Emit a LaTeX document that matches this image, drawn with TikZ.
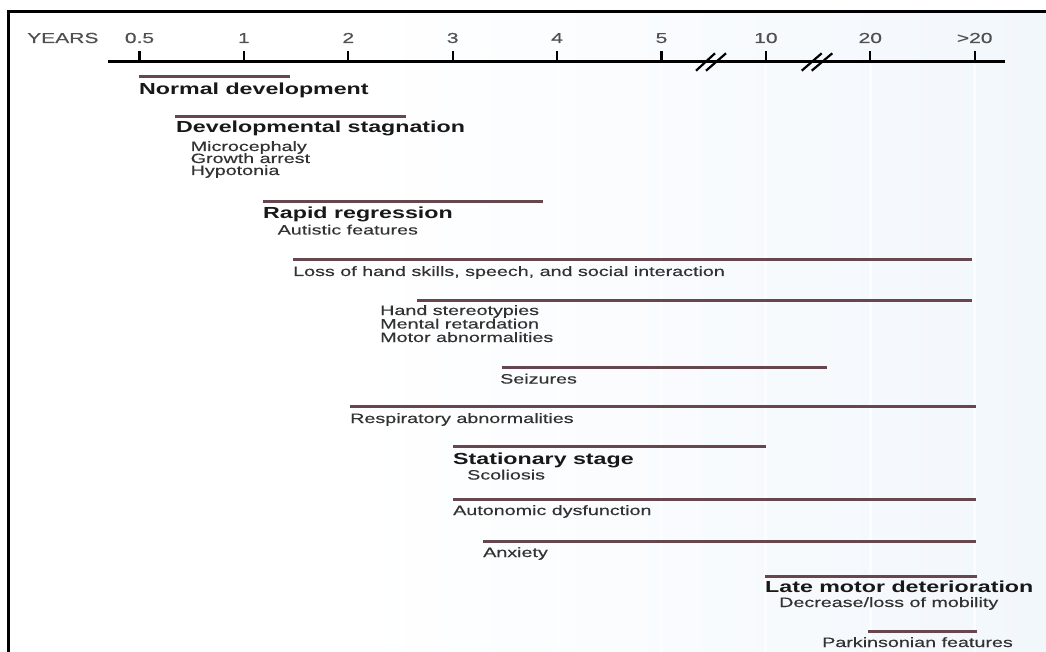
\documentclass[tikz,border=0pt]{standalone}
\usepackage{fontspec}
\setmainfont{Liberation Sans}
\newfontfamily\axisfont[FakeStretch=1.45, FakeBold=0.3]{Liberation Sans}
\newfontfamily\headfont[FakeStretch=1.45]{Liberation Sans}
\newfontfamily\itemfont[FakeStretch=1.46, FakeBold=0.3]{Liberation Sans}

\definecolor{barcol}{RGB}{104,70,78}
\definecolor{bgblue}{RGB}{232,241,250}
\definecolor{headcol}{RGB}{24,24,24}
\definecolor{itemcol}{RGB}{50,50,50}
\definecolor{axiscol}{RGB}{80,80,80}

\pgfdeclarehorizontalshading{panelshade}{100bp}{color(0bp)=(white); color(42bp)=(white); color(100bp)=(bgblue)}

\tikzset{
  bar/.style={draw=barcol, line width=3pt},
  axisline/.style={draw=black, line width=3pt},
  tick/.style={draw=black, line width=2.2pt},
  breakmark/.style={draw=black, line width=2.2pt},
  head/.style={anchor=base west, inner sep=0pt, text=headcol,
    font=\headfont\bfseries\fontsize{16}{16}\selectfont},
  item/.style={anchor=base west, inner sep=0pt, text=itemcol,
    font=\itemfont\fontsize{13.5}{13.5}\selectfont},
  yr/.style={anchor=base, inner sep=0pt, text=axiscol,
    font=\axisfont\fontsize{14.5}{14.5}\selectfont},
  stripe/.style={draw=white, line width=3pt, opacity=0.7},
}

\begin{document}
\begin{tikzpicture}[x=1pt, y=-1pt]
\useasboundingbox (0,0) rectangle (1046,652);
\fill[white] (0,0) rectangle (1046,652);

% panel background and frame
\fill[shading=panelshade] (8.3,11.5) rectangle (1046,652);
\foreach \sx in {557.1,661.5,765.9,870.3,974.7}
  \draw[stripe] (\sx,64) -- (\sx,652);
\draw[line width=2.5pt] (8.3,652) -- (8.3,11.5) -- (1046,11.5);

% time axis
\draw[axisline] (108,62) -- (1005,62);
\foreach \k/\lab in {0/0.5,1/1,2/2,3/3,4/4,5/5,6/10,7/20,8/{>20}} {
  \pgfmathsetmacro{\tx}{139.5+104.4*\k}
  \draw[tick] (\tx,51.5) -- (\tx,62);
  \node[yr] (tick\k) at (\tx,43) {\lab};
}
\node[yr, anchor=base west] (years) at (27,43) {YEARS};

% axis breaks
\draw[breakmark] (696,70.7) -- (715,53.3);
\draw[breakmark] (706,70.7) -- (726,53.3);
\draw[breakmark] (801.7,70.7) -- (821.7,53.3);
\draw[breakmark] (811.7,70.7) -- (832.3,53.3);

% normal development
\draw[bar] (139,77) -- (290,77);
\node[head] (normal) at (139,95) {Normal development};

% developmental stagnation
\draw[bar] (175,117) -- (406,117);
\node[head] (stagnation) at (176,133) {Developmental stagnation};
\node[item] (micro) at (190.5,151) {Microcephaly};
\node[item] (growth) at (190.5,163) {Growth arrest};
\node[item] (hypo) at (190.5,175) {Hypotonia};

% rapid regression
\draw[bar] (263,202) -- (543,202);
\node[head] (regression) at (263,219) {Rapid regression};
\node[item] (autistic) at (277.5,234.5) {Autistic features};

% loss of skills
\draw[bar] (293,259.5) -- (972,259.5);
\node[item] (loss) at (293,276) {Loss of hand skills, speech, and social interaction};

% stereotypies group
\draw[bar] (417,300) -- (972,300);
\node[item] (stereo) at (380,315) {Hand stereotypies};
\node[item] (mental) at (380,328.5) {Mental retardation};
\node[item] (motor) at (380,342) {Motor abnormalities};

% seizures
\draw[bar] (502,367) -- (827,367);
\node[item] (seizures) at (500,383.5) {Seizures};

% respiratory
\draw[bar] (350,406) -- (976,406);
\node[item] (resp) at (350,423) {Respiratory abnormalities};

% stationary stage
\draw[bar] (453,446) -- (766,446);
\node[head] (stationary) at (453,464) {Stationary stage};
\node[item] (scoliosis) at (467,479.5) {Scoliosis};

% autonomic dysfunction
\draw[bar] (453,499.5) -- (976,499.5);
\node[item] (autonomic) at (453,515) {Autonomic dysfunction};

% anxiety
\draw[bar] (483,541) -- (976,541);
\node[item] (anxiety) at (483,557) {Anxiety};

% late motor deterioration
\draw[bar] (765,576) -- (977,576);
\node[head] (late) at (765,592.5) {Late motor deterioration};
\node[item] (mobility) at (779,607) {Decrease/loss of mobility};

% parkinsonian features
\draw[bar] (868,631) -- (977,631);
\node[item] (parkinson) at (822,647) {Parkinsonian features};
\end{tikzpicture}
\end{document}
